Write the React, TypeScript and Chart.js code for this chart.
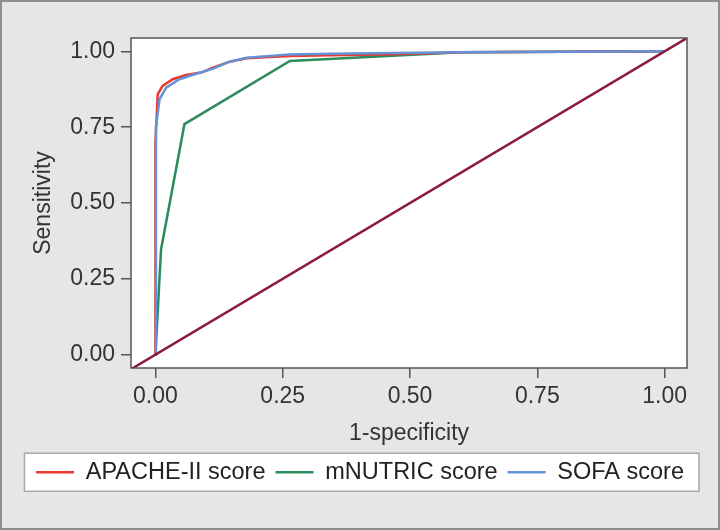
import React, { useEffect, useRef } from 'react';
import { Chart, registerables } from 'chart.js';

Chart.register(...registerables);

// ---- data ----
const apacheX = [0, 0, 0.0045, 0.014, 0.034, 0.06, 0.09, 0.113, 0.146, 0.179, 0.224, 0.264, 0.343, 0.45, 0.6, 1];
const apacheY = [0, 0.7, 0.858, 0.886, 0.908, 0.922, 0.93, 0.946, 0.966, 0.977, 0.981, 0.985, 0.987, 0.99, 0.997, 1];

const mnutricX = [0, 0.011, 0.057, 0.264, 0.6, 1];
const mnutricY = [0, 0.347, 0.76, 0.968, 0.997, 1];

const sofaX = [0, 0.001, 0.008, 0.021, 0.047, 0.08, 0.113, 0.146, 0.179, 0.264, 0.343, 0.6, 1];
const sofaY = [0, 0.75, 0.842, 0.88, 0.908, 0.926, 0.943, 0.966, 0.979, 0.99, 0.992, 0.997, 1];

const xMin = -0.048;
const yMin = -0.044;
const axisMax = 1.044;
const refX = [xMin, axisMax];
const refY = [xMin, axisMax];

const tickValues = [0, 0.25, 0.5, 0.75, 1];
const seriesLabels = ['APACHE-II score', 'mNUTRIC score', 'SOFA score'];

const FONT = "'Liberation Sans', Arial, sans-serif";

const toPoints = (xs: number[], ys: number[]) => xs.map((x, i) => ({ x, y: ys[i] }));

const framePlugin = {
  id: 'frame',
  beforeDraw(chart: any) {
    const { ctx, width, height, chartArea: a } = chart;
    ctx.save();
    ctx.fillStyle = '#e6e6e6';
    ctx.fillRect(0, 0, width, height);
    ctx.fillStyle = '#ffffff';
    ctx.fillRect(a.left, a.top, a.right - a.left, a.bottom - a.top);
    const lg = chart.legend;
    if (lg && lg.legendHitBoxes && lg.legendHitBoxes.length) {
      const hb = lg.legendHitBoxes;
      const first = hb[0];
      const last = hb[hb.length - 1];
      const cy = first.top + first.height / 2;
      const l = first.left - 11.5;
      const r = last.left + last.width + 15;
      ctx.fillStyle = '#ffffff';
      ctx.fillRect(l, cy - 19, r - l, 38);
      ctx.strokeStyle = '#a9a9a9';
      ctx.lineWidth = 1.5;
      ctx.strokeRect(l, cy - 19, r - l, 38);
    }
    ctx.restore();
  },
  afterDraw(chart: any) {
    const { ctx, width, height, chartArea: a } = chart;
    ctx.save();
    ctx.strokeStyle = '#555555';
    ctx.lineWidth = 1.5;
    ctx.strokeRect(a.left, a.top, a.right - a.left, a.bottom - a.top);
    ctx.strokeStyle = '#8e8e8e';
    ctx.lineWidth = 2;
    ctx.strokeRect(1, 1, width - 2, height - 2);
    ctx.restore();
  },
};

const tickFont = { size: 23, family: FONT };

export default function App() {
  const ref = useRef<HTMLCanvasElement | null>(null);

  useEffect(() => {
    if (!ref.current) return;
    const commonScale = (title: string, isY: boolean) => ({
      type: 'linear' as const,
      min: isY ? yMin : xMin,
      max: axisMax,
      afterBuildTicks: (s: any) => {
        s.ticks = tickValues.map((v) => ({ value: v }));
      },
      afterFit: (s: any) => {
        if (isY) s.width = 131;
        else s.height = 82.5;
      },
      ticks: {
        callback: (v: any) => Number(v).toFixed(2),
        font: tickFont,
        color: '#333333',
        padding: isY ? 6 : 5,
        maxRotation: 0,
        autoSkip: false,
      },
      grid: {
        drawOnChartArea: false,
        drawTicks: true,
        tickLength: 10,
        color: '#555555',
        lineWidth: 1.5,
      },
      border: { display: false },
      title: {
        display: true,
        text: title,
        font: tickFont,
        color: '#333333',
        padding: isY ? { top: 30, bottom: 0 } : { top: 0, bottom: 3.5 },
      },
    });

    const chart = new Chart(ref.current, {
      type: 'line',
      data: {
        datasets: [
          {
            label: seriesLabels[0],
            data: toPoints(apacheX, apacheY),
            borderColor: '#e8392e',
            backgroundColor: '#e8392e',
            borderWidth: 2.5,
            order: 3,
          },
          {
            label: seriesLabels[1],
            data: toPoints(mnutricX, mnutricY),
            borderColor: '#2b8c5b',
            backgroundColor: '#2b8c5b',
            borderWidth: 2.5,
            order: 4,
          },
          {
            label: seriesLabels[2],
            data: toPoints(sofaX, sofaY),
            borderColor: '#6592d6',
            backgroundColor: '#6592d6',
            borderWidth: 2.5,
            order: 2,
          },
          {
            label: 'reference',
            data: toPoints(refX, refY),
            borderColor: '#8c1b3d',
            backgroundColor: '#8c1b3d',
            borderWidth: 2.5,
            order: 1,
          },
        ],
      },
      options: {
        animation: false,
        responsive: false,
        elements: { point: { radius: 0, hoverRadius: 0 }, line: { tension: 0 } },
        layout: { padding: { top: 38, right: 0, bottom: 36, left: 0 } },
        scales: {
          x: commonScale('1-specificity', false),
          y: commonScale('Sensitivity', true),
          yRight: {
            type: 'linear',
            position: 'right',
            display: true,
            grid: { display: false, drawTicks: false },
            border: { display: false },
            ticks: { display: false },
            afterFit: (s: any) => {
              s.width = 33;
            },
          },
        },
        plugins: {
          tooltip: { enabled: false },
          legend: {
            position: 'bottom',
            labels: {
              usePointStyle: true,
              pointStyle: 'line',
              pointStyleWidth: 38,
              padding: 10,
              font: { size: 23.5, family: FONT },
              color: '#222222',
              filter: (item: any) => item.datasetIndex < 3,
              sort: (a: any, b: any) => a.datasetIndex - b.datasetIndex,
            },
          },
        },
      } as any,
      plugins: [framePlugin],
    });
    return () => chart.destroy();
  }, []);

  return (
    <div style={{ position: 'absolute', left: 0, top: 0, width: 720, height: 530 }}>
      <canvas ref={ref} width={720} height={530} style={{ display: 'block' }} />
    </div>
  );
}
